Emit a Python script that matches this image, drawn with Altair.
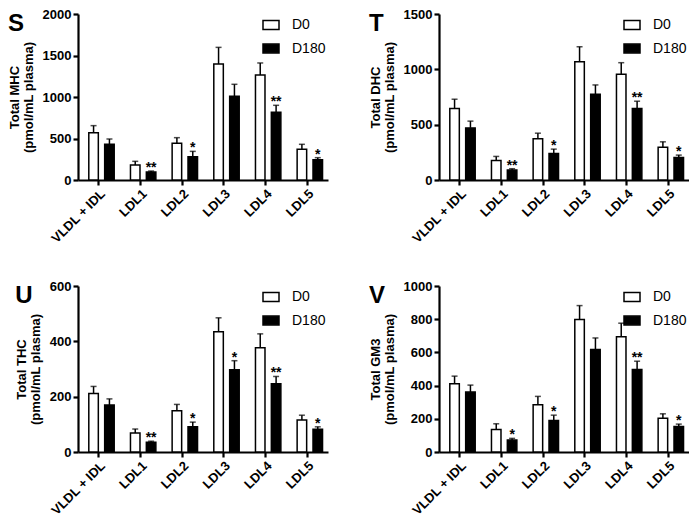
import altair as alt
import pandas as pd

categories = ["VLDL + IDL", "LDL1", "LDL2", "LDL3", "LDL4", "LDL5"]
groups = ["D0", "D180"]

# Panel S: Total MHC
mhc_d0 = [570, 181, 442, 1398, 1265, 369]
mhc_d0_sem = [85, 44, 68, 200, 145, 61]
mhc_d180 = [430, 96, 281, 1008, 815, 245]
mhc_d180_sem = [64, 12, 64, 145, 85, 24]
mhc_stars = ["", "**", "*", "", "**", "*"]

# Panel T: Total DHC
dhc_d0 = [646, 177, 372, 1069, 955, 297]
dhc_d0_sem = [84, 36, 51, 135, 105, 48]
dhc_d180 = [471, 90, 240, 775, 646, 204]
dhc_d180_sem = [61, 12, 39, 84, 66, 21]
dhc_stars = ["", "**", "*", "", "**", "*"]

# Panel U: Total THC
thc_d0 = [211, 69, 149, 435, 377, 116]
thc_d0_sem = [26, 14, 23, 50, 50, 17]
thc_d180 = [170, 35, 91, 297, 247, 82]
thc_d180_sem = [22, 4, 17, 33, 26, 9]
thc_stars = ["", "**", "*", "*", "**", "*"]

# Panel V: Total GM3
gm3_d0 = [411, 136, 285, 798, 695, 204]
gm3_d0_sem = [46, 34, 50, 84, 81, 26]
gm3_d180 = [361, 72, 190, 617, 497, 154]
gm3_d180_sem = [42, 10, 32, 70, 50, 14]
gm3_stars = ["", "*", "*", "", "**", "*"]

FONT = "Liberation Sans"
W, H = 250, 166


def panel(letter, name, d0, d0s, d180, d180s, stars, ymax, step):
    rows = []
    for i, c in enumerate(categories):
        rows.append(dict(cat=c, grp="D0", mean=d0[i], upper=d0[i] + d0s[i], star=""))
        rows.append(dict(cat=c, grp="D180", mean=d180[i], upper=d180[i] + d180s[i], star=stars[i]))
    df = pd.DataFrame(rows)

    x = alt.X("cat:N", sort=categories,
              scale=alt.Scale(paddingInner=0, paddingOuter=0),
              axis=alt.Axis(title=None, labelAngle=-45, labelPadding=2))
    xo = alt.XOffset("grp:N", sort=groups,
                     scale=alt.Scale(domain=groups, range=[10.8, 36.2],
                                     paddingInner=0.4, paddingOuter=0))
    yscale = alt.Scale(domain=[0, ymax], nice=False, zero=True)
    yaxis = alt.Axis(values=list(range(0, ymax + 1, step)), format="d",
                     labelOverlap=False,
                     title=[f"Total {name}", "(pmol/mL plasma)"],
                     titlePadding=7, titleLineHeight=14)

    def Y(field):
        return alt.Y(field, type="quantitative", scale=yscale, axis=yaxis)

    base = alt.Chart(df)
    bars = base.mark_bar(stroke="black", strokeWidth=1.5).encode(
        x=x, xOffset=xo, y=Y("mean"),
        fill=alt.Fill("grp:N", sort=groups,
                      scale=alt.Scale(domain=groups, range=["white", "black"]),
                      legend=alt.Legend(title=None, orient="top-right", offset=2,
                                        padding=0, labelFont=FONT, labelFontSize=14,
                                        labelColor="black", labelOffset=12,
                                        symbolType="M-1,-0.55H1V0.55H-1Z",
                                        symbolSize=256, symbolStrokeColor="black",
                                        symbolStrokeWidth=1.5, rowPadding=6.5)))
    err = base.mark_rule(color="black", strokeWidth=1.5).encode(
        x=x, xOffset=xo, y=Y("mean"), y2="upper:Q")
    cap = base.mark_tick(color="black", thickness=1.5, size=6).encode(
        x=x, xOffset=xo, y=Y("upper"))
    txt = base.mark_text(font=FONT, fontSize=14, fontWeight="bold", color="black",
                         baseline="alphabetic", dy=1).encode(
        x=x, xOffset=xo, y=Y("upper"), text="star:N")
    return alt.layer(bars, err, cap, txt).properties(
        width=W, height=H,
        title=alt.TitleParams(letter, anchor="start", frame="bounds", fontSize=24,
                              fontWeight="bold", font=FONT, color="black", offset=-28)
    )


s = panel("S", "MHC", mhc_d0, mhc_d0_sem, mhc_d180, mhc_d180_sem, mhc_stars, 2000, 500)
t = panel("T", "DHC", dhc_d0, dhc_d0_sem, dhc_d180, dhc_d180_sem, dhc_stars, 1500, 500)
u = panel("U", "THC", thc_d0, thc_d0_sem, thc_d180, thc_d180_sem, thc_stars, 600, 200)
v = panel("V", "GM3", gm3_d0, gm3_d0_sem, gm3_d180, gm3_d180_sem, gm3_stars, 1000, 200)

chart = alt.concat(s, t, u, v, columns=2, spacing={"row": 34, "column": 41}).resolve_scale(
    x="independent", y="independent", fill="independent", xOffset="independent"
).resolve_legend(fill="independent").properties(
    padding=0
).configure_view(stroke=None).configure_axis(
    domainColor="black", domainWidth=2.2, tickColor="black", tickWidth=2.2, tickSize=5,
    labelFont=FONT, labelFontSize=13, labelFontWeight="bold", labelColor="black",
    titleFont=FONT, titleFontSize=13, titleFontWeight="bold", titleColor="black",
    grid=False
)

chart.save("out.html", embed_options={"renderer": "svg", "actions": False})
